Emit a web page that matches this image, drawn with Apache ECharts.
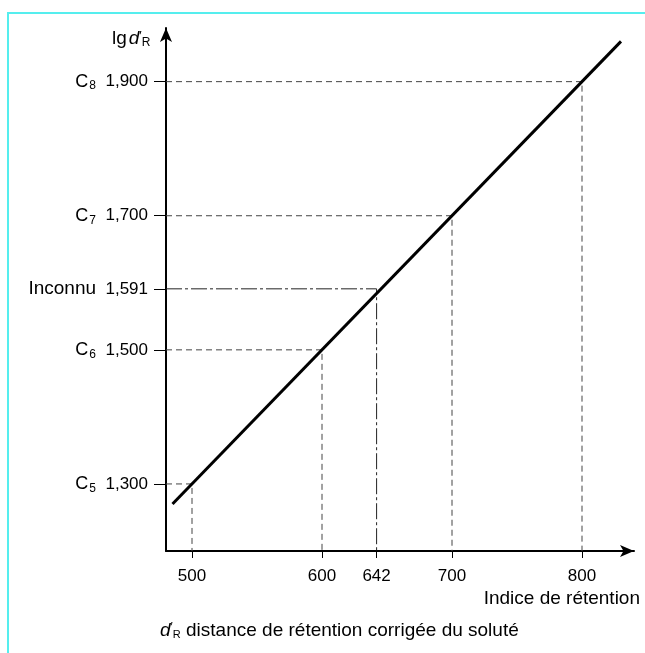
<!DOCTYPE html>
<html>
<head>
<meta charset="utf-8">
<script src="https://cdn.jsdelivr.net/npm/echarts@6/dist/echarts.min.js"></script>
<style>
html,body{margin:0;padding:0;background:#fff;}
#c{width:645px;height:653px;}
</style>
</head>
<body>
<div id="c"></div>
<script>
// ---- data ----
var indexTicks = [500, 600, 642, 700, 800];          // Indice de rétention
var lgTicks = [1.300, 1.500, 1.591, 1.700, 1.900];    // lg d'R
var lgNames = ['C5', 'C6', 'Inconnu', 'C7', 'C8'];
var lineX = [485, 830];                               // calibration line ends
var lineY = [1.270, 1.960];
var xRange = [480, 840];
var yRange = [1.2, 1.98];

var FONT = 'Liberation Sans';

function fmtNum(v) { return v.toFixed(3).replace('.', ','); }

var yLabelMap = {};
lgTicks.forEach(function (v, i) {
  var n = lgNames[i];
  var s;
  if (n.charAt(0) === 'C' && n.length === 2) {
    s = '{c|C}{s|' + n.charAt(1) + '}{v|  ' + fmtNum(v) + '}';
  } else {
    s = '{w|' + n + '}{v|  ' + fmtNum(v) + '}';
  }
  yLabelMap[v.toFixed(3)] = s;
});

var series = [];
series.push({
  type: 'line',
  data: lineX.map(function (x, i) { return [x, lineY[i]]; }),
  symbol: 'none',
  lineStyle: { color: '#000', width: 3 },
  z: 5,
  silent: true
});
indexTicks.forEach(function (x, i) {
  var y = lgTicks[i];
  var isUnknown = lgNames[i] === 'Inconnu';
  series.push({
    type: 'line',
    data: [[xRange[0], y], [x, y], [x, yRange[0]]],
    symbol: 'none',
    lineStyle: {
      color: isUnknown ? '#222' : '#444',
      width: 1,
      type: isUnknown ? [16, 3, 3, 3] : [6, 4]
    },
    z: 3,
    silent: true
  });
});

var chart = echarts.init(document.getElementById('c'), null, { renderer: 'canvas' });
chart.setOption({
  animation: false,
  backgroundColor: '#fff',
  grid: { left: 166, right: 11, top: 28, bottom: 102, containLabel: false },
  xAxis: {
    type: 'value',
    min: xRange[0], max: xRange[1],
    splitLine: { show: false },
    axisLine: { show: true, lineStyle: { color: '#000', width: 2 }, symbol: ['none', 'arrow'], symbolSize: [9, 14] },
    axisTick: { show: true, length: 7, inside: false, customValues: indexTicks, lineStyle: { color: '#000', width: 1 } },
    axisLabel: { show: true, customValues: indexTicks, margin: 17, color: '#000', fontFamily: FONT, fontSize: 17,
      formatter: function (v) { return String(v); } }
  },
  yAxis: {
    type: 'value',
    min: yRange[0], max: yRange[1],
    splitLine: { show: false },
    axisLine: { show: true, lineStyle: { color: '#000', width: 2 }, symbol: ['none', 'arrow'], symbolSize: [9, 14] },
    axisTick: { show: true, length: 12, inside: false, customValues: lgTicks, lineStyle: { color: '#000', width: 1 } },
    axisLabel: {
      show: true, customValues: lgTicks, margin: 18, color: '#000', fontFamily: FONT, fontSize: 17,
      formatter: function (v) { return yLabelMap[Number(v).toFixed(3)] || ''; },
      rich: {
        c: { fontFamily: FONT, fontSize: 18, color: '#000' },
        s: { fontFamily: FONT, fontSize: 12, color: '#000', padding: [9, 0, 0, 1] },
        w: { fontFamily: FONT, fontSize: 19, color: '#000' },
        v: { fontFamily: FONT, fontSize: 17, color: '#000' }
      }
    }
  },
  series: series,
  graphic: [
    { type: 'rect', shape: { x: 8, y: 13, width: 700, height: 700 }, style: { fill: null, stroke: '#55eeee', lineWidth: 2 }, silent: true },
    { type: 'text', left: 112, top: 29, style: {
        text: '{a|lg}{d|d}{p|\u2032}{r|R}', fill: '#000',
        rich: {
          a: { fontFamily: FONT, fontSize: 19 },
          d: { fontFamily: FONT, fontSize: 19, fontStyle: 'italic', padding: [0, 0, 0, 2] },
          p: { fontFamily: FONT, fontSize: 13, padding: [0, 0, 5, 0] },
          r: { fontFamily: FONT, fontSize: 12, padding: [9, 0, 0, 0] }
        } } },
    { type: 'text', right: 5, top: 589, style: { text: 'Indice de rétention', fill: '#000', font: '19px ' + FONT } },
    { type: 'text', left: 160, top: 621, style: {
        text: '{d|d}{p|\u2032}{r|R}{t| distance de rétention corrigée du soluté}', fill: '#000',
        rich: {
          d: { fontFamily: FONT, fontSize: 19, fontStyle: 'italic' },
          p: { fontFamily: FONT, fontSize: 12, padding: [0, 0, 5, 0] },
          r: { fontFamily: FONT, fontSize: 11, padding: [8, 0, 0, 0] },
          t: { fontFamily: FONT, fontSize: 19 }
        } } }
  ]
});
</script>
</body>
</html>
